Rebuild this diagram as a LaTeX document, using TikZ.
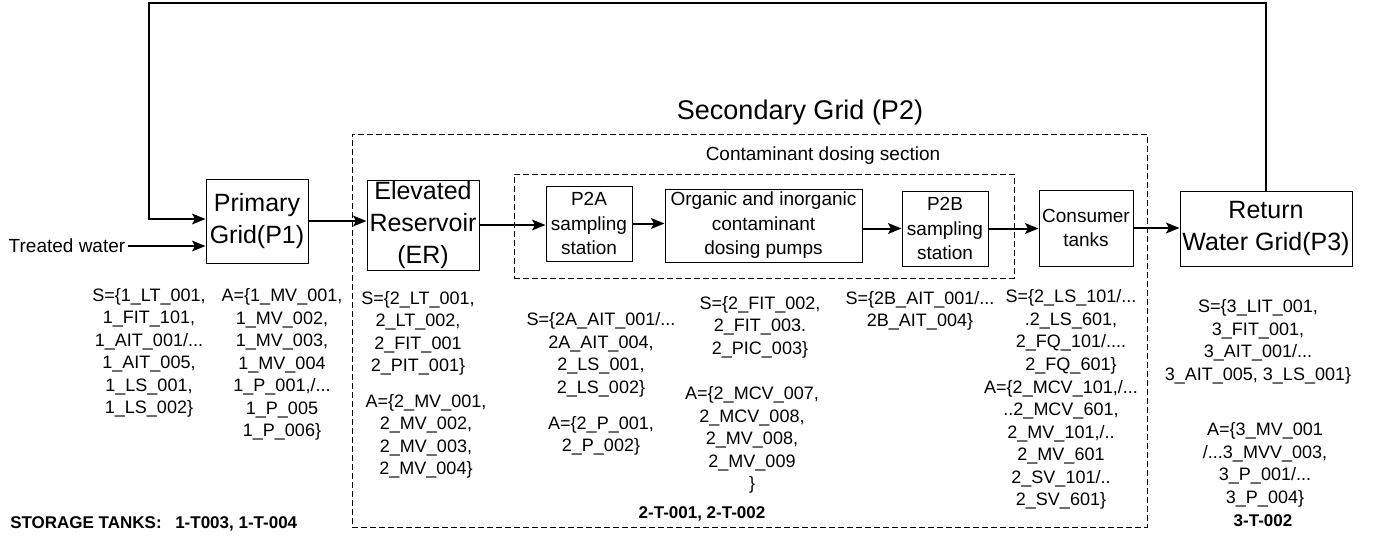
\documentclass[tikz,border=0pt]{standalone}
\usepackage{fontspec}
\setmainfont{Liberation Sans}
\usetikzlibrary{arrows.meta}
\tikzset{
  sz/.style 2 args={minimum width=#1*0.75pt, minimum height=#2*0.75pt},
  box/.style={draw, line width=0.75pt, inner sep=0pt, align=center},
  big/.style={font=\fontsize{18.75}{24}\selectfont},
  mid/.style={font=\fontsize{14.25}{18.4}\selectfont},
  lbl/.style={align=center, inner sep=0pt, font=\fontsize{13.5}{16.9}\selectfont},
  boldlbl/.style={inner sep=0pt, font=\fontsize{12.75}{15}\selectfont\bfseries},
  arr/.style={line width=1.5pt, -{Stealth[length=10pt,width=8pt,inset=2pt]}},
  dashbox/.style={draw, line width=0.75pt, dash pattern=on 4.5pt off 2.25pt, inner sep=0pt},
}
\begin{document}
\begin{tikzpicture}[x=0.75pt,y=-0.75pt]
\useasboundingbox (0,0) rectangle (1382,540);
\fill[white] (0,0) rectangle (1382,540);

% dashed frames
\node[dashbox, sz={795}{393}] (sec) at (749.5,330.5) {};
\node[dashbox, sz={500}{104}] (dos) at (764,226) {};
\node[inner sep=0pt, font=\fontsize{20.25}{24}\selectfont] (sectitle) at (800,113) {Secondary Grid (P2)};
\node[inner sep=0pt, mid] (dostitle) at (823,156) {Contaminant dosing section};

% boxes
\node[box, big, sz={102}{84}] (prim) at (257,221) {Primary\\Grid(P1)};
\node[box, big, sz={112}{90}] (er) at (423,225) {Elevated\\Reservoir\\(ER)};
\node[box, mid, sz={86}{75}] (p2a) at (589,223.5) {P2A\\sampling\\station};
\node[box, mid, sz={197}{73}] (org) at (763.5,225.5) {Organic and inorganic\\contaminant\\dosing pumps};
\node[box, mid, sz={86}{75}] (p2b) at (945,228.5) {P2B\\sampling\\station};
\node[box, mid, sz={94}{76}] (cons) at (1086,228) {Consumer\\tanks};
\node[box, big, sz={172}{75}] (ret) at (1266,228.5) {Return\\Water Grid(P3)};

\node[inner sep=2pt, mid] (tw) at (67,246) {Treated water};

% connectors
\coordinate (fbl) at (149,3);
\coordinate (fbd) at (149,219);
\draw[arr] (tw.east) -- (tw.east -| prim.west);
\draw[arr] (ret.north) |- (fbl) |- (fbd -| prim.west);
\draw[arr] (prim.east) -- (prim.east -| er.west);
\draw[arr] (er.east) -- (er.east -| p2a.west);
\draw[arr] (p2a.east) -- (p2a.east -| org.west);
\draw[arr] (p2b.west -| org.east) -- (p2b.west);
\draw[arr] (p2b.east) -- (p2b.east -| cons.west);
\draw[arr] (cons.east) -- (cons.east -| ret.west);

% signal / actuator lists
\node[lbl] (s1) at (149,353) {S=\{1\_LT\_001,\\1\_FIT\_101,\\1\_AIT\_001/...\\1\_AIT\_005,\\1\_LS\_001,\\1\_LS\_002\}};
\node[lbl] (a1) at (282,364.5) {A=\{1\_MV\_001,\\1\_MV\_002,\\1\_MV\_003,\\1\_MV\_004\\1\_P\_001,/...\\1\_P\_005\\1\_P\_006\}};
\node[lbl] (s2) at (418,333.5) {S=\{2\_LT\_001,\\2\_LT\_002,\\2\_FIT\_001\\2\_PIT\_001\}};
\node[lbl] (a2) at (426,436.5) {A=\{2\_MV\_001,\\2\_MV\_002,\\2\_MV\_003,\\2\_MV\_004\}};
\node[lbl] (s2a) at (601,355) {S=\{2A\_AIT\_001/...\\2A\_AIT\_004,\\2\_LS\_001,\\2\_LS\_002\}};
\node[lbl] (a2a) at (601,436) {A=\{2\_P\_001,\\2\_P\_002\}};
\node[lbl] (sorg) at (760,327) {S=\{2\_FIT\_002,\\2\_FIT\_003.\\2\_PIC\_003\}};
\node[lbl] (aorg) at (752,440) {A=\{2\_MCV\_007,\\2\_MCV\_008,\\2\_MV\_008,\\2\_MV\_009\\\}};
\node[lbl] (s2b) at (920,311) {S=\{2B\_AIT\_001/...\\2B\_AIT\_004\}};
\node[lbl] (scons) at (1071,332) {S=\{2\_LS\_101/...\\.2\_LS\_601,\\2\_FQ\_101/....\\2\_FQ\_601\}};
\node[lbl] (acons) at (1061,445) {A=\{2\_MCV\_101,/...\\..2\_MCV\_601,\\2\_MV\_101,/..\\2\_MV\_601\\2\_SV\_101/..\\2\_SV\_601\}};
\node[lbl] (sret) at (1258,342) {S=\{3\_LIT\_001,\\3\_FIT\_001,\\3\_AIT\_001/...\\3\_AIT\_005, 3\_LS\_001\}};
\node[lbl] (aret) at (1265,465) {A=\{3\_MV\_001\\/...3\_MVV\_003,\\3\_P\_001/...\\3\_P\_004\}};

% tank labels
\node[boldlbl] (t3) at (1263,521) {3-T-002};
\node[boldlbl] (t2) at (702,514) {2-T-001, 2-T-002};
\node[boldlbl, anchor=west] (t1) at (10,524) {STORAGE TANKS:\hspace{0.8em}1-T003, 1-T-004};
\end{tikzpicture}
\end{document}
